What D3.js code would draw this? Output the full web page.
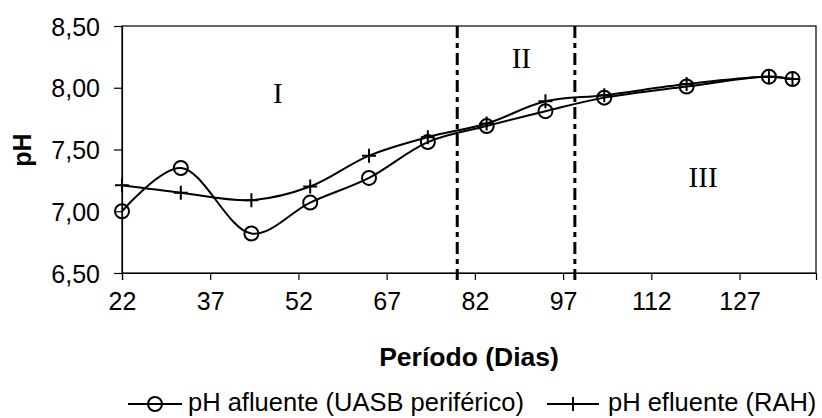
<!DOCTYPE html>
<html>
<head>
<meta charset="utf-8">
<script src="https://cdn.jsdelivr.net/npm/d3@7"></script>
<style>
  html, body { margin: 0; padding: 0; background: #fff; }
  svg { display: block; }
</style>
</head>
<body>
<svg id="chart" width="822" height="418"></svg>
<script>
// ---- data ----
const days = [22, 32, 44, 54, 64, 74, 84, 94, 104, 118, 132, 136];
const phAfluente = [7.00, 7.35, 6.82, 7.07, 7.27, 7.56, 7.69, 7.81, 7.92, 8.01, 8.09, 8.07];
const phEfluente = [7.21, 7.15, 7.09, 7.20, 7.45, 7.60, 7.71, 7.89, 7.94, 8.03, 8.09, 8.07];
const xTicks = [22, 37, 52, 67, 82, 97, 112, 127];
const yTicks = [6.5, 7.0, 7.5, 8.0, 8.5];
const phaseBounds = [79, 99];
const phaseLabels = ["I", "II", "III"];
const phaseLabelPos = [[48.5, 7.876], [89.9, 8.157], [120.8, 7.199]];
const seriesNames = ["pH afluente (UASB periférico)", "pH efluente (RAH)"];
const xTitle = "Período (Dias)";
const yTitle = "pH";

// ---- layout ----
const svg = d3.select("#chart");
const L = 122, R = 816, T = 26, B = 273;
const x = d3.scaleLinear().domain([22, 140]).range([L, R]);
const y = d3.scaleLinear().domain([6.5, 8.5]).range([B, T]);
const sans = "'Liberation Sans', Arial, sans-serif";
const serif = "'Liberation Serif', 'Times New Roman', serif";

// frame
svg.append("rect").attr("x", L).attr("y", T).attr("width", R - L).attr("height", B - T)
  .attr("fill", "none").attr("stroke", "#000").attr("stroke-width", 1.2);

// axes
const fmt = d => d3.format(".2f")(d).replace(".", ",");
const yAxis = svg.append("g").attr("transform", `translate(${L},0)`)
  .call(d3.axisLeft(y).tickValues(yTicks).tickFormat(fmt).tickSize(8).tickPadding(14));
const xAxis = svg.append("g").attr("transform", `translate(0,${B})`)
  .call(d3.axisBottom(x).tickValues(xTicks).tickFormat(d3.format("d")).tickSize(7).tickPadding(12));
[xAxis, yAxis].forEach(g => {
  g.select(".domain").attr("stroke", "#000").attr("stroke-width", 1.2);
  g.selectAll(".tick line").attr("stroke", "#000").attr("stroke-width", 1.2);
  g.selectAll(".tick text").attr("fill", "#000").style("font-family", sans).style("font-size", "25px");
});
xAxis.selectAll(".tick text").attr("dy", "0.71em");
yAxis.selectAll(".tick text").attr("dy", "0.36em");

// phase boundary lines
svg.append("g").selectAll("line").data(phaseBounds).join("line")
  .attr("x1", d => x(d)).attr("x2", d => x(d))
  .attr("y1", T).attr("y2", B + 7)
  .attr("stroke", "#000").attr("stroke-width", 3)
  .attr("stroke-dasharray", "12,5,5,5");

// phase labels
svg.append("g").selectAll("text").data(phaseLabels).join("text")
  .attr("x", (d, i) => x(phaseLabelPos[i][0]))
  .attr("y", (d, i) => y(phaseLabelPos[i][1]))
  .attr("text-anchor", "middle")
  .style("font-family", serif).style("font-size", "29px")
  .text(d => d);

// lines
const line = d3.line().x(d => x(d[0])).y(d => y(d[1])).curve(d3.curveCatmullRom.alpha(0.5));
const afl = days.map((d, i) => [d, phAfluente[i]]);
const efl = days.map((d, i) => [d, phEfluente[i]]);
[afl, efl].forEach(s => {
  svg.append("path").datum(s).attr("d", line)
    .attr("fill", "none").attr("stroke", "#000").attr("stroke-width", 2);
});

// markers
svg.append("g").selectAll("circle").data(afl).join("circle")
  .attr("cx", d => x(d[0])).attr("cy", d => y(d[1])).attr("r", 7)
  .attr("fill", "none").attr("stroke", "#000").attr("stroke-width", 2);
const plus = (g, cx, cy, s) => {
  g.append("path").attr("d", `M${cx - s},${cy}H${cx + s}M${cx},${cy - s}V${cy + s}`)
    .attr("stroke", "#000").attr("stroke-width", 2).attr("fill", "none");
};
const pg = svg.append("g");
efl.forEach(d => plus(pg, x(d[0]), y(d[1]), 7));

// axis titles
svg.append("text").attr("x", (L + R) / 2).attr("y", 366)
  .attr("text-anchor", "middle")
  .style("font-family", sans).style("font-size", "26.5px").style("font-weight", "bold")
  .text(xTitle);
svg.append("text").attr("transform", "translate(31,150) rotate(-90)")
  .attr("text-anchor", "middle")
  .style("font-family", sans).style("font-size", "25px").style("font-weight", "bold")
  .text(yTitle);

// legend
const leg = svg.append("g");
const ly = 404;
// item 1
leg.append("line").attr("x1", 128).attr("x2", 182).attr("y1", ly).attr("y2", ly)
  .attr("stroke", "#000").attr("stroke-width", 2);
leg.append("circle").attr("cx", 155).attr("cy", ly).attr("r", 7)
  .attr("fill", "none").attr("stroke", "#000").attr("stroke-width", 2);
leg.append("text").attr("x", 188).attr("y", 411)
  .style("font-family", sans).style("font-size", "25.5px").text(seriesNames[0]);
// item 2
leg.append("line").attr("x1", 547).attr("x2", 599).attr("y1", ly).attr("y2", ly)
  .attr("stroke", "#000").attr("stroke-width", 2);
plus(leg, 573, ly, 7);
leg.append("text").attr("x", 608).attr("y", 411)
  .style("font-family", sans).style("font-size", "25.5px").text(seriesNames[1]);
</script>
</body>
</html>
